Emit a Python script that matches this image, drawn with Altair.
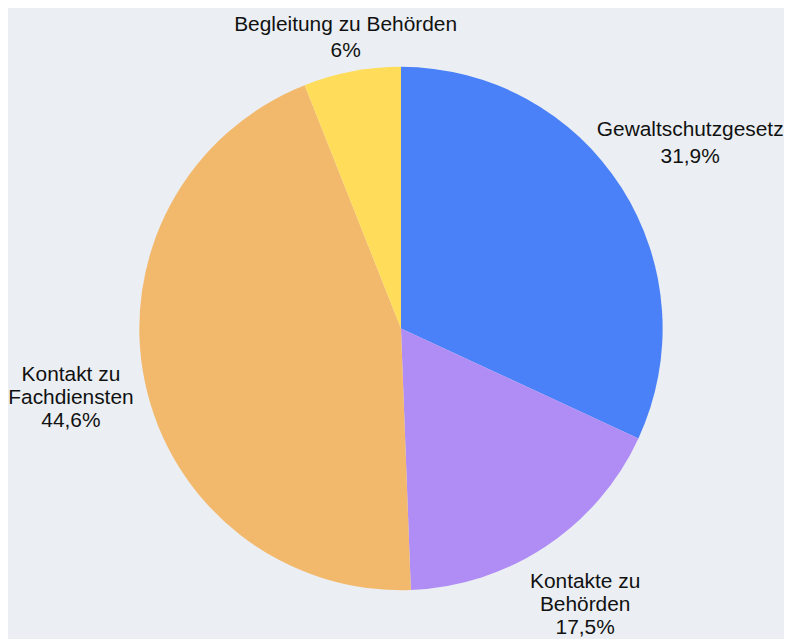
import altair as alt
import pandas as pd

categories = ["Gewaltschutzgesetz", "Kontakte zu Behörden", "Kontakt zu Fachdiensten", "Begleitung zu Behörden"]
label_names = ["Gewaltschutzgesetz", "Kontakte zu\nBehörden", "Kontakt zu\nFachdiensten", "Begleitung zu Behörden"]
values = [31.9, 17.5, 44.6, 6.0]
value_labels = ["31,9%", "17,5%", "44,6%", "6%"]
colors = ["#4A80F8", "#B08CF5", "#F2B86C", "#FFDC5A"]

# style: distance of each label block centre from the pie centre
label_radius = [345, 334, 339, 297]

df = pd.DataFrame({
    "kategorie": categories,
    "wert": values,
    "idx": list(range(len(categories))),
    "label": [f"{n}\n{v}" for n, v in zip(label_names, value_labels)],
    "nlines": [len(n.split("\n")) + 1 for n in label_names],
    "lr": label_radius,
})

CX, CY = 395, 320.5
R = 263

theta_scale = alt.Scale(domain=[0, 100])

pie = alt.Chart(df).mark_arc(outerRadius=R).encode(
    theta=alt.Theta("wert:Q", stack=True, scale=theta_scale),
    order=alt.Order("idx:Q"),
    color=alt.Color("kategorie:N", scale=alt.Scale(domain=categories, range=colors), legend=None),
    x=alt.value(CX),
    y=alt.value(CY),
)

label_base = alt.Chart(df).transform_window(
    cum="sum(wert)", sort=[alt.SortField("idx")], frame=[None, 0]
).transform_calculate(
    mid="datum.cum - datum.wert / 2"
)

def label_layer(n, lh):
    return label_base.transform_filter(f"datum.nlines == {n}").mark_text(
        font="Liberation Sans", fontSize=21, lineBreak="\n", lineHeight=lh,
        align="center", baseline="middle", color="#111111", dy=-(n - 1) * lh / 2,
    ).encode(
        theta=alt.Theta("mid:Q", stack=False, scale=theta_scale),
        radius=alt.Radius("lr:Q", scale=None),
        text="label:N",
        x=alt.value(CX),
        y=alt.value(CY),
    )

chart = (pie + label_layer(2, 26.7) + label_layer(3, 23)).properties(
    width=776, height=623, padding=0, background="#EBEFF3"
).configure_view(stroke=None)

chart.save("out.html", embed_options={"renderer": "svg", "actions": False})
